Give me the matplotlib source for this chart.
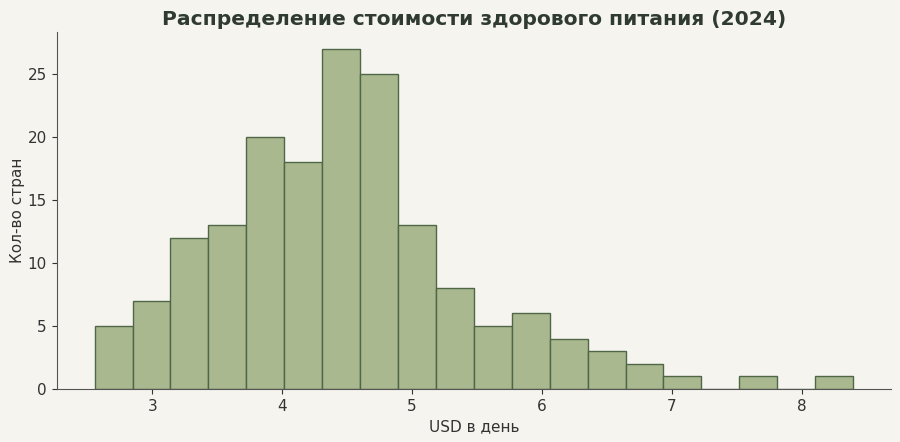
import numpy as np
import matplotlib.pyplot as plt

# Гистограмма: границы корзин и количество стран в каждой
bin_edges = np.linspace(2.555, 8.395, 21)
counts = [5, 7, 12, 13, 20, 18, 27, 25, 13, 8, 5, 6, 4, 3, 2, 1, 0, 1, 0, 1]

bg = '#f5f4ef'
fig = plt.figure(figsize=(9, 4.42), dpi=100, facecolor=bg)
ax = fig.add_axes([0.063, 0.12, 0.927, 0.808])
ax.set_facecolor(bg)

ax.hist(bin_edges[:-1], bins=bin_edges, weights=counts,
        color='#a9b88f', edgecolor='#4f6647', linewidth=1.0)

ax.set_ylim(0, 28.35)
ax.set_title('Распределение стоимости здорового питания (2024)',
             fontsize=14.6, fontweight='bold', color='#2f3a30', pad=5)
ax.set_xlabel('USD в день', fontsize=11, color='#333333')
ax.set_ylabel('Кол-во стран', fontsize=11, color='#333333', labelpad=2)
ax.tick_params(labelsize=11, colors='#333333')
for s in ['top', 'right']:
    ax.spines[s].set_visible(False)
for s in ['left', 'bottom']:
    ax.spines[s].set_color('#555555')

fig.savefig('out.png', dpi=100, facecolor=bg)
